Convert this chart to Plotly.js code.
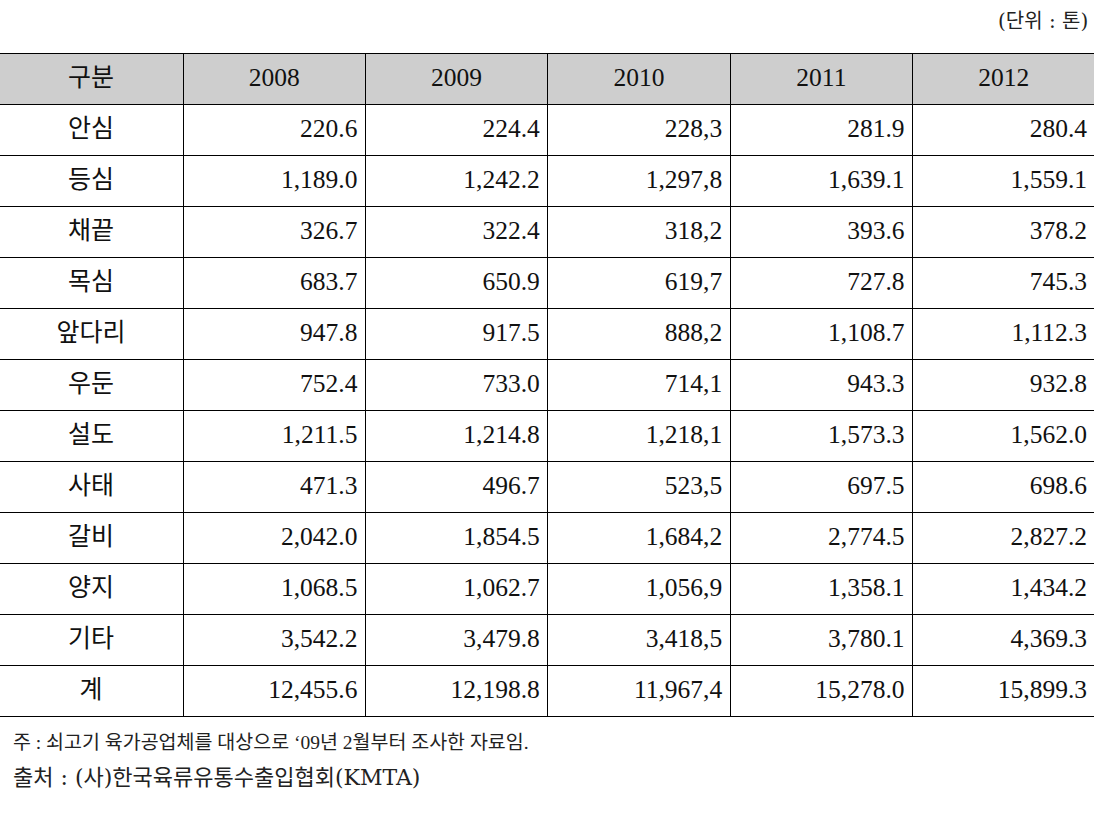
<!DOCTYPE html>
<html>
<head>
<meta charset="utf-8">
<script src="https://cdn.plot.ly/plotly-3.0.1.min.js"></script>
<style>
  html, body { margin: 0; padding: 0; background: #fff; overflow: hidden; }
  #chart { position: absolute; left: -1px; top: 0; width: 1096px; height: 818px; }
  /* the source table has no outer right border */
  #edge { position: absolute; left: 1094px; top: 0; width: 10px; height: 818px; background: #fff; }
  /* plotly tables have no vertical alignment, push text to the middle of the rows */
  #chart .cell-text-holder { translate: 0 6px; }
</style>
</head>
<body>
<div id="chart"></div>
<div id="edge"></div>
<script>
// 쇠고기 부위별 생산량 (단위: 톤)
const years = ["2008", "2009", "2010", "2011", "2012"];
const parts = ["안심", "등심", "채끝", "목심", "앞다리", "우둔", "설도", "사태", "갈비", "양지", "기타", "계"];

// values kept exactly as printed (2010 column uses commas in the source)
const v2008 = ["220.6", "1,189.0", "326.7", "683.7", "947.8", "752.4", "1,211.5", "471.3", "2,042.0", "1,068.5", "3,542.2", "12,455.6"];
const v2009 = ["224.4", "1,242.2", "322.4", "650.9", "917.5", "733.0", "1,214.8", "496.7", "1,854.5", "1,062.7", "3,479.8", "12,198.8"];
const v2010 = ["228,3", "1,297,8", "318,2", "619,7", "888,2", "714,1", "1,218,1", "523,5", "1,684,2", "1,056,9", "3,418,5", "11,967,4"];
const v2011 = ["281.9", "1,639.1", "393.6", "727.8", "1,108.7", "943.3", "1,573.3", "697.5", "2,774.5", "1,358.1", "3,780.1", "15,278.0"];
const v2012 = ["280.4", "1,559.1", "378.2", "745.3", "1,112.3", "932.8", "1,562.0", "698.6", "2,827.2", "1,434.2", "4,369.3", "15,899.3"];

const unitText = "(단위 : 톤)";
const noteText = "주 : 쇠고기 육가공업체를 대상으로 ‘09년 2월부터 조사한 자료임.";
const sourceText = "출처 : (사)한국육류유통수출입협회(KMTA)";

const font = "Liberation Serif, Noto Sans CJK KR, serif";
const wideFont = "DejaVu Serif, Noto Sans CJK KR, serif";
const W = 1096, H = 818;

let trace = {
    type: "table",
    domain: { x: [0, 1], y: [0, 1 - 53 / H] },
    columnwidth: [184, 182.4, 182.4, 182.4, 182.4, 182.4],
    header: {
        values: ["구분"].concat(years),
        align: "center",
        height: 51,
        fill: { color: "#cecece" },
        line: { color: "#000", width: 1 },
        font: { family: font, size: [25, 25.5, 25.5, 25.5, 25.5, 25.5], color: "#111" }
    },
    cells: {
        values: [parts, v2008, v2009, v2010, v2011, v2012],
        align: ["center", "right", "right", "right", "right", "right"],
        height: 51,
        fill: { color: "#fff" },
        line: { color: "#000", width: 1 },
        font: { family: font, size: [25, 25.5, 25.5, 25.5, 25.5, 25.5], color: "#111" }
    }
};

let layout = {
    width: W,
    height: H,
    margin: { l: 0, r: 0, t: 0, b: 0 },
    paper_bgcolor: "#fff",
    showlegend: false,
    annotations: [
        { text: unitText, xref: "paper", yref: "paper", x: 1091 / W, y: 1 - 21 / H, xanchor: "right", yanchor: "middle", showarrow: false, font: { family: wideFont, size: 20, color: "#222" } },
        { text: noteText, xref: "paper", yref: "paper", x: 12 / W, y: 1 - 742 / H, xanchor: "left", yanchor: "middle", showarrow: false, font: { family: font, size: 19.5, color: "#222" } },
        { text: sourceText, xref: "paper", yref: "paper", x: 12 / W, y: 1 - 777 / H, xanchor: "left", yanchor: "middle", showarrow: false, font: { family: wideFont, size: 22, color: "#222" } }
    ]
};

Plotly.newPlot("chart", [trace], layout, { displayModeBar: false, staticPlot: true });
</script>
</body>
</html>
